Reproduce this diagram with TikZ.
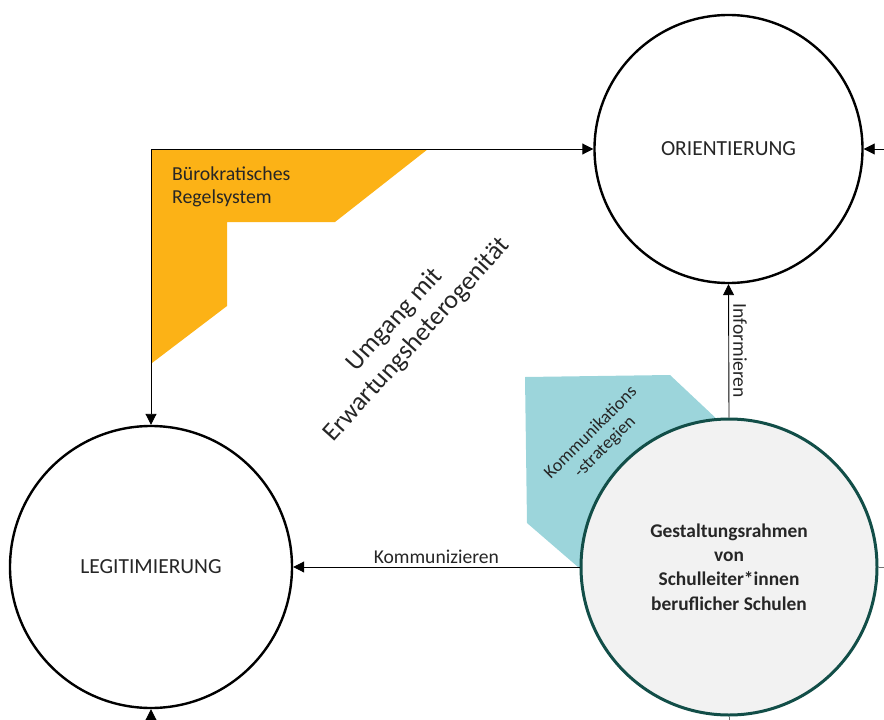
\documentclass[tikz,border=0pt]{standalone}
\usepackage{fontspec}
\setmainfont{Carlito}
\usetikzlibrary{arrows.meta}
\definecolor{regelgelb}{RGB}{252,178,22}
\definecolor{kommteal}{RGB}{156,213,219}
\definecolor{rahmenrand}{RGB}{18,78,72}
\definecolor{rahmenfill}{RGB}{242,242,242}
\definecolor{textgrau}{RGB}{38,38,38}
\tikzset{
  ring/.style={circle, draw=black, line width=2.4pt, fill=white, inner sep=0pt,
    text=textgrau, font=\fontsize{21.5}{24}\selectfont},
  kernring/.style={circle, draw=rahmenrand, line width=3pt, fill=rahmenfill, inner sep=0pt,
    text=textgrau, align=center, font=\bfseries\fontsize{19.4}{24.3}\selectfont},
  link/.style={draw=black, line width=0.9pt},
  pfeil/.style={link, -{Triangle[length=11pt,width=11pt]}},
  lbl/.style={text=textgrau, inner sep=0pt}
}
\begin{document}
\begin{tikzpicture}[x=1pt,y=-1pt]
\useasboundingbox (0,0) rectangle (884,720);

% coloured background areas
\fill[regelgelb] (152,149) -- (428,149) -- (335,222) -- (227,222) -- (227,306) -- (152,363) -- cycle;
\fill[kommteal] (525,377) -- (670,375) -- (770,469) -- (729,567) -- (600,586) -- (527,523) -- cycle;

% circles
\node[ring, minimum size=268pt] (orient) at (728.5,149) {ORIENTIERUNG};
\node[ring, minimum size=282pt] (legit) at (151,567) {LEGITIMIERUNG};

% free ends leaving the picture
\coordinate (rin) at (884,149);
\coordinate (bin) at (151,720);
\coordinate (rout) at (884,567);
\coordinate (bout) at (729,720);

% connectors
\draw[link, {Triangle[length=11pt,width=11pt]}-{Triangle[length=11pt,width=11pt]}]
  (orient.west) -| (legit.north);
\draw[pfeil] (rin) -- (orient.east);
\draw[pfeil] (bin) -- (legit.south);

\node[kernring, minimum size=296pt] (gest) at (729,567)
  {Gestaltungsrahmen\\von\\Schulleiter*innen\\beruflicher Schulen};

\draw[pfeil] (gest.north) -- (orient.south)
  node[lbl, midway, right=4pt, rotate=-90, anchor=south, font=\fontsize{19.6}{22}\selectfont] {Informieren};
\draw[pfeil] (gest.west) -- (legit.east)
  node[lbl, pos=0.5, above=3pt, font=\fontsize{19.6}{22}\selectfont] {Kommunizieren};
\draw[draw=black!55, line width=0.9pt] (gest.east) -- (rout);
\draw[draw=black!55, line width=0.9pt] (gest.south) -- (bout);

% labels on the coloured areas
\node[lbl, anchor=north west, align=left, font=\fontsize{19.8}{23}\selectfont] (regel) at (172,167)
  {Bürokratisches\\Regelsystem};
\node[lbl, rotate=45, align=center, font=\fontsize{18}{20}\selectfont] (komm) at (598,440)
  {Kommunikations\\-strategien};
\node[lbl, rotate=48, align=center, font=\fontsize{26}{30}\selectfont] (umgang) at (406,330)
  {Umgang mit\\Erwartungsheterogenität};
\end{tikzpicture}
\end{document}
